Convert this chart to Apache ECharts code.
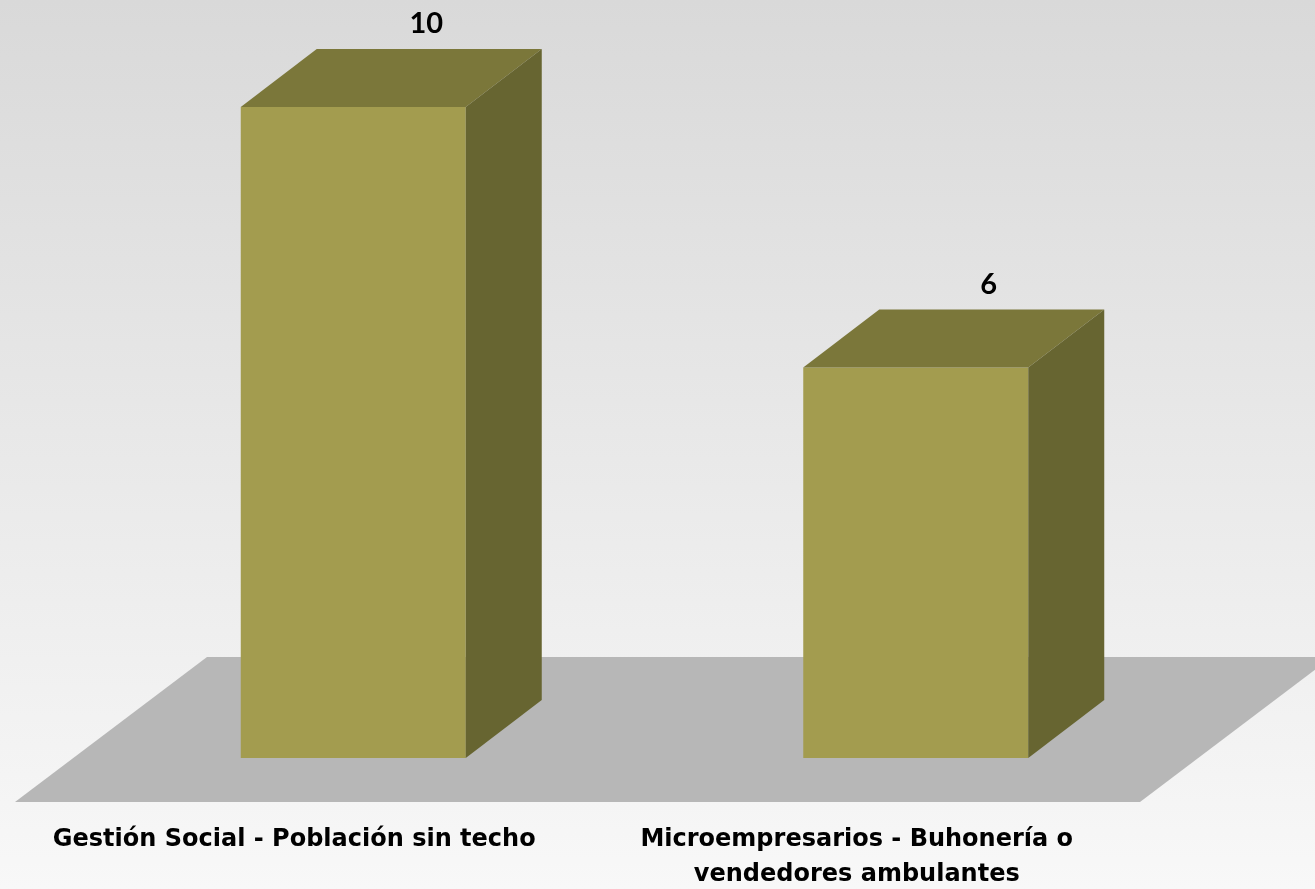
<!DOCTYPE html>
<html>
<head>
<meta charset="utf-8">
<title>Gestión Social</title>
<script src="https://cdn.jsdelivr.net/npm/echarts@6/dist/echarts.min.js"></script>
<style>
  html, body { margin: 0; padding: 0; }
  #chart { width: 1315px; height: 889px; }
</style>
</head>
<body>
<div id="chart"></div>
<script>
  // datos del gráfico
  var categories = ['Gestión Social - Población sin techo', 'Microempresarios - Buhonería o\nvendedores ambulantes'];
  var values = [10, 6];

  // profundidad del efecto 3D
  var DX = 76, DY = 58;

  var myChart = echarts.init(document.getElementById('chart'));

  function renderFloor(params, api) {
    var cs = params.coordSys;
    var base = api.coord([0, 0])[1];
    var fy = base + 44, by = base - 101;
    var fl = cs.x - 57, fr = cs.x + cs.width - 57;
    var off = 192;
    return {
      type: 'polygon',
      shape: { points: [[fl, fy], [fr, fy], [fr + off, by], [fl + off, by]] },
      style: { fill: '#b7b7b7' },
      silent: true
    };
  }

  function renderBar(params, api) {
    var idx = api.value(0);
    var val = api.value(1);
    var base = api.coord([idx, 0]);
    var top = api.coord([idx, val]);
    var w = api.size([1, 0])[0] * 0.4;
    var cx = base[0];
    var x0 = cx - w / 2, x1 = cx + w / 2;
    var ty = top[1], by = base[1];
    return {
      type: 'group',
      children: [
        {
          type: 'rect',
          shape: { x: x0, y: ty, width: w, height: by - ty },
          style: { fill: '#a39c4f' }
        },
        {
          type: 'polygon',
          shape: { points: [[x0, ty], [x1, ty], [x1 + DX, ty - DY], [x0 + DX, ty - DY]] },
          style: { fill: '#7b773a' }
        },
        {
          type: 'polygon',
          shape: { points: [[x1, ty], [x1 + DX, ty - DY], [x1 + DX, by - DY], [x1, by]] },
          style: { fill: '#676531' }
        },
        {
          type: 'text',
          style: {
            x: cx + DX - 3, y: ty - DY - 25,
            text: String(val),
            fill: '#000', font: 'bold 29px Lato',
            align: 'center', verticalAlign: 'middle'
          }
        },
        {
          type: 'text',
          style: {
            x: cx - 59, y: by + 64,
            text: categories[idx],
            fill: '#000', font: 'bold 24px "DejaVu Sans"',
            align: 'center', verticalAlign: 'top', lineHeight: 35
          }
        }
      ]
    };
  }

  var option = {
    backgroundColor: {
      type: 'linear', x: 0, y: 0, x2: 0, y2: 1,
      colorStops: [
        { offset: 0, color: '#d9d9d9' },
        { offset: 1, color: '#f8f8f8' }
      ]
    },
    animation: false,
    grid: { left: 72, right: 118, top: 42, bottom: 131 },
    xAxis: {
      type: 'category',
      data: categories,
      show: false
    },
    yAxis: {
      type: 'value',
      min: 0,
      max: 11,
      show: false
    },
    series: [
      {
        type: 'custom',
        renderItem: renderFloor,
        data: [[0, 0]],
        z: 1
      },
      {
        type: 'custom',
        renderItem: renderBar,
        data: values.map(function (v, i) { return [i, v]; }),
        z: 2
      }
    ]
  };

  myChart.setOption(option);
</script>
</body>
</html>
